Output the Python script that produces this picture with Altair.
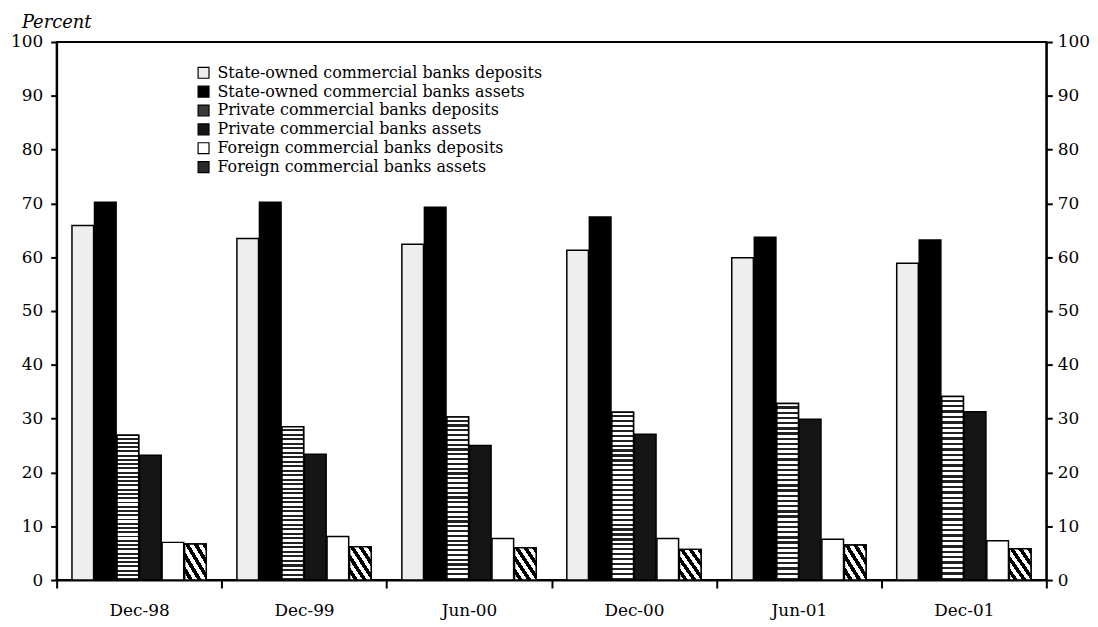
import altair as alt
import pandas as pd

periods = ["Dec-98", "Dec-99", "Jun-00", "Dec-00", "Jun-01", "Dec-01"]
series = [
    "State-owned commercial banks deposits",
    "State-owned commercial banks assets",
    "Private commercial banks deposits",
    "Private commercial banks assets",
    "Foreign commercial banks deposits",
    "Foreign commercial banks assets",
]
so_dep = [65.9, 63.5, 62.4, 61.3, 59.9, 58.9]
so_assets = [70.2, 70.2, 69.3, 67.5, 63.7, 63.2]
priv_dep = [26.9, 28.5, 30.3, 31.2, 32.8, 34.1]
priv_assets = [23.2, 23.4, 25.0, 27.1, 29.9, 31.3]
for_dep = [7.0, 8.1, 7.7, 7.7, 7.6, 7.3]
for_assets = [6.7, 6.2, 6.0, 5.7, 6.5, 5.8]
y_ticks = [0, 10, 20, 30, 40, 50, 60, 70, 80, 90, 100]

values = [so_dep, so_assets, priv_dep, priv_assets, for_dep, for_assets]
rows = []
for s, vals in zip(series, values):
    for p, v in zip(periods, vals):
        rows.append({"period": p, "series": s, "value": v})
df = pd.DataFrame(rows)

fills = ["#eeeeee", "#000000", "#3a3a3a", "#151515", "#ffffff", "#2a2a2a"]
FONT = "DejaVu Serif"


def stripes(n, x1, y1, x2, y2, dark="#000000", light="#ffffff", frac=0.5):
    stops = []
    for i in range(n):
        a = i / n
        b = (i + frac) / n
        c = (i + 1) / n
        stops += [
            alt.GradientStop(color=light, offset=a),
            alt.GradientStop(color=light, offset=b),
            alt.GradientStop(color=dark, offset=b),
            alt.GradientStop(color=dark, offset=c),
        ]
    return alt.LinearGradient(gradient="linear", stops=stops, x1=x1, y1=y1, x2=x2, y2=y2)


wavy = stripes(34, 0, 0, 0, 1, dark="#222222", light="#ffffff", frac=0.55)
diag = stripes(5, 0, 1, 1, 0)

x_enc = alt.X(
    "period:N",
    sort=periods,
    scale=alt.Scale(paddingInner=0, paddingOuter=0),
    axis=alt.Axis(title=None, tickBand="extent", tickSize=8, labelPadding=15,
                  labelAngle=0, domainWidth=2, tickWidth=2),
)
xo_enc = alt.XOffset(
    "series:N",
    scale=alt.Scale(domain=series, paddingInner=0.04, paddingOuter=0.68),
)
y_scale = alt.Scale(domain=[0, 100], nice=False)

base = alt.Chart(df).mark_bar(stroke="black", strokeWidth=1.5).encode(
    x=x_enc,
    xOffset=xo_enc,
    y=alt.Y("value:Q", scale=y_scale,
            axis=alt.Axis(title=None, values=y_ticks, orient="left", tickSize=6,
                          labelPadding=8, domainWidth=2, tickWidth=2)),
    color=alt.Color(
        "series:N",
        scale=alt.Scale(domain=series, range=fills),
        legend=alt.Legend(
            title=None, orient="none", legendX=140, legendY=23,
            symbolType="square", symbolSize=121, symbolStrokeColor="black",
            symbolStrokeWidth=1.2, labelFont=FONT, labelFontSize=16,
            labelColor="black", rowPadding=3, labelLimit=600, labelOffset=6,
        ),
    ),
)

ov_wavy = alt.Chart(df).transform_filter(alt.datum.series == series[2]).mark_bar(
    fill=wavy, stroke="black", strokeWidth=1.5
).encode(
    x=x_enc,
    xOffset=xo_enc,
    y=alt.Y("value:Q", scale=y_scale,
            axis=alt.Axis(title=None, values=y_ticks, orient="right", tickSize=6,
                          labelPadding=5, domainWidth=2, tickWidth=2)),
)

ov_diag = alt.Chart(df).transform_filter(alt.datum.series == series[5]).mark_bar(
    fill=diag, stroke="black", strokeWidth=1.5
).encode(
    x=x_enc,
    xOffset=xo_enc,
    y=alt.Y("value:Q", scale=y_scale, axis=None),
)

chart = alt.layer(base, ov_wavy, ov_diag).resolve_scale(y="independent").properties(
    width=997,
    height=542,
    autosize=alt.AutoSizeParams(type="none"),
    padding={"left": 49, "top": 32, "right": 44, "bottom": 40},
    title=alt.Title("Percent", anchor="start", frame="group", dx=-35, offset=1,
                    font=FONT, fontSize=18, fontStyle="italic", fontWeight="normal",
                    color="black"),
).configure_view(
    stroke="black", strokeWidth=2
).configure_axis(
    labelFont=FONT, labelFontSize=17, labelColor="black", domainColor="black",
    tickColor="black", grid=False,
)

chart.save("out.html", embed_options={"renderer": "svg", "actions": False})
